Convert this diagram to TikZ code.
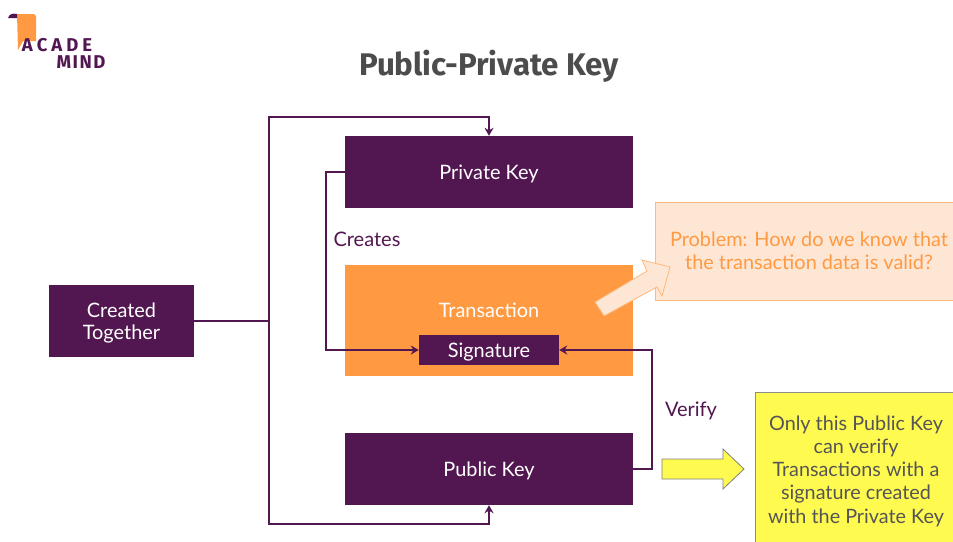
\documentclass[tikz,border=0pt]{standalone}
\usepackage{fontspec}
\setmainfont{Lato}
\newfontfamily\titlefont{Fira Sans}
\usetikzlibrary{arrows.meta}
\definecolor{acpurple}{HTML}{521751}
\definecolor{acorange}{HTML}{FF9A42}
\definecolor{acpale}{HTML}{FEE6D5}
\definecolor{acyellow}{HTML}{FFFA4F}
\definecolor{acgrey}{HTML}{555555}
\newcommand{\lowered}[1]{\raisebox{-7pt}[0pt][0pt]{#1}}
\tikzset{
  x=1pt,y=-1pt,
  purplebox/.style={fill=acpurple,text=white,inner sep=0pt,align=center,font=\fontsize{19.9}{23}\selectfont},
  link/.style={draw=acpurple,line width=2.6pt,-{Stealth[length=8pt,width=9pt]}},
  plainlink/.style={draw=acpurple,line width=2.6pt},
  lbl/.style={text=acpurple,inner sep=0pt,font=\fontsize{20}{23}\selectfont},
  logotext/.style={text=acpurple,inner sep=0pt,anchor=center,font=\titlefont\bfseries\fontsize{18.5}{18}\selectfont},
}
\begin{document}
\begin{tikzpicture}
\useasboundingbox (0,0) rectangle (953,541);
\fill[white] (0,0) rectangle (953,541);
% logo
\fill[acorange] (17,14) -- (33,14) .. controls (35,14) and (36,15) .. (36,17) -- (36,41) -- (23,41) -- (18,50) -- cycle;
\fill[acpurple] (8,18) .. controls (9,14) and (13,13) .. (17,14) -- (17,18) -- cycle;
\node[logotext] (logoa) at (57,45.5) {A\kern4pt C\kern4pt A\kern4pt D\kern4pt E};
\node[logotext] (logob) at (81,62.5) {M\kern1.5pt I\kern1.5pt N\kern1.5pt D};
% title
\node[text=acgrey!90!black,inner sep=0pt,font=\titlefont\bfseries\fontsize{31.3}{36}\selectfont] (title) at (489,66) {Public-Private Key};
% boxes
\node[purplebox,minimum width=288pt,minimum height=72pt] (priv) at (489,172) {\lowered{Private Key}};
\node[fill=acorange,text=white,inner sep=0pt,minimum width=288pt,minimum height=111pt] (tx) at (489,320.5) {};
\node[text=white,inner sep=0pt,font=\fontsize{19.9}{23}\selectfont] (txl) at (489,310) {Transaction};
\node[purplebox,minimum width=140pt,minimum height=30pt] (sig) at (489,350) {\lowered{Signature}};
\node[purplebox,minimum width=288pt,minimum height=72pt] (pub) at (489,469) {\lowered{Public Key}};
\node[purplebox,minimum width=145pt,minimum height=72pt] (tog) at (121.5,321) {};
\node[text=white,inner sep=0pt,align=center,font=\fontsize{19.9}{22.5}\selectfont] (togl) at (121.5,323) {Created\\Together};
% note boxes
\node[draw=acorange!70,fill=acpale,line width=1pt,minimum width=300pt,minimum height=98pt,inner sep=0pt] (prob) at (805,251) {};
\node[text=acorange,inner sep=0pt,align=center,font=\fontsize{19.9}{23}\selectfont] (probl) at (809,251) {Problem: How do we know that\\the transaction data is valid?};
\node[draw=black!45,fill=acyellow,line width=1pt,minimum width=200pt,minimum height=152pt,inner sep=0pt] (only) at (855,468) {};
\node[text=acgrey,inner sep=0pt,align=center,font=\fontsize{19.8}{23.3}\selectfont] (onlyl) at (856,471) {Only this Public Key\\can verify\\Transactions with a\\signature created\\with the Private Key};
% labels
\node[lbl] (cre) at (367,239.5) {Creates};
\node[lbl] (ver) at (691,410.5) {Verify};
% connectors
\coordinate (tj) at (269,321);
\draw[plainlink] (tog.east) -- (tj);
\draw[link] (tj) |- (269,117) -| (priv.north);
\draw[link] (tj) |- (269,524) -| (pub.south);
\draw[link] (priv.west) -| (326,350) -- (sig.west);
\draw[link] (pub.east) -| (652,350) -- (sig.east);
% block arrows
\draw[draw=acorange!70,fill=acpale,line width=.8pt] (595,302) -- (647,271) -- (642,260) -- (670,267) -- (662,296) -- (657,287) -- (604,316) -- cycle;
\draw[draw=black!50,fill=acyellow,line width=.8pt] (662,459) -- (723,459) -- (723,449) -- (744,469) -- (723,489) -- (723,479) -- (662,479) -- cycle;
\end{tikzpicture}
\end{document}
